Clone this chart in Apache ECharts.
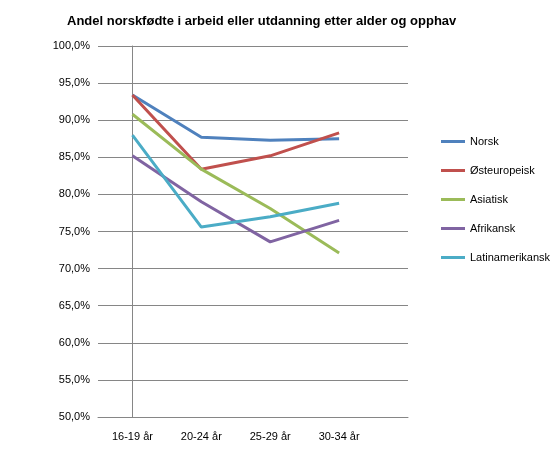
<!DOCTYPE html>
<html>
<head>
<meta charset="utf-8">
<script src="https://cdn.jsdelivr.net/npm/echarts@6/dist/echarts.min.js"></script>
<style>html,body{margin:0;padding:0;background:#fff}#main{width:560px;height:463px}</style>
</head>
<body>
<div id="main"></div>
<script>
// aldersgrupper og andeler (%)
var categories = ['16-19 år', '20-24 år', '25-29 år', '30-34 år'];
var norsk = [93.4, 87.7, 87.3, 87.5];
var osteuropeisk = [93.4, 83.4, 85.2, 88.3];
var asiatisk = [90.8, 83.4, 78.1, 72.1];
var afrikansk = [85.2, 79.0, 73.6, 76.5];
var latinamerikansk = [88.0, 75.6, 77.0, 78.8];
var names = ['Norsk', 'Østeuropeisk', 'Asiatisk', 'Afrikansk', 'Latinamerikansk'];
var colors = ['#4F81BD', '#C0504D', '#9BBB59', '#8064A2', '#4BACC6'];
var values = [norsk, osteuropeisk, asiatisk, afrikansk, latinamerikansk];

var series = [];
for (var i = 0; i < names.length; i++) {
	var pts = [];
	for (var j = 0; j < categories.length; j++) pts.push([j, values[i][j]]);
	series.push({
		name: names[i],
		type: 'line',
		data: pts,
		symbol: 'none',
		lineStyle: { width: 3, color: colors[i] },
		itemStyle: { color: colors[i] }
	});
}

var myChart = echarts.init(document.getElementById('main'));
myChart.setOption({
	animation: false,
	textStyle: { fontFamily: 'Liberation Sans, Arial' },
	title: {
		text: 'Andel norskfødte i arbeid eller utdanning etter alder og opphav',
		left: 62, top: 10,
		textStyle: { fontSize: 13, fontWeight: 'bold', color: '#000' }
	},
	legend: {
		orient: 'vertical', left: 436, top: 131, itemGap: 18,
		icon: 'rect', itemWidth: 24, itemHeight: 3,
		data: names,
		textStyle: { fontSize: 11, color: '#000' }
	},
	grid: { left: 98, top: 46, width: 310, height: 371 },
	xAxis: {
		type: 'value', min: -0.5, max: 4, interval: 0.5,
		splitLine: { show: false },
		axisLine: { onZero: false, lineStyle: { color: '#868686' } },
		axisTick: { show: false },
		axisLabel: {
			color: '#000', fontSize: 11, margin: 14, showMinLabel: false, showMaxLabel: false,
			formatter: function (v) {
				return (Math.abs(v - Math.round(v)) < 1e-6 && categories[Math.round(v)]) ? categories[Math.round(v)] : '';
			}
		}
	},
	yAxis: {
		type: 'value', min: 50, max: 100, interval: 5,
		axisLine: { show: true, lineStyle: { color: '#868686' } },
		axisTick: { show: true, lineStyle: { color: '#868686' } },
		splitLine: { lineStyle: { color: '#868686' } },
		axisLabel: {
			color: '#000', fontSize: 11,
			formatter: function (v) { return v.toFixed(1).replace('.', ',') + '%'; }
		}
	},
	series: series
});
</script>
</body>
</html>
